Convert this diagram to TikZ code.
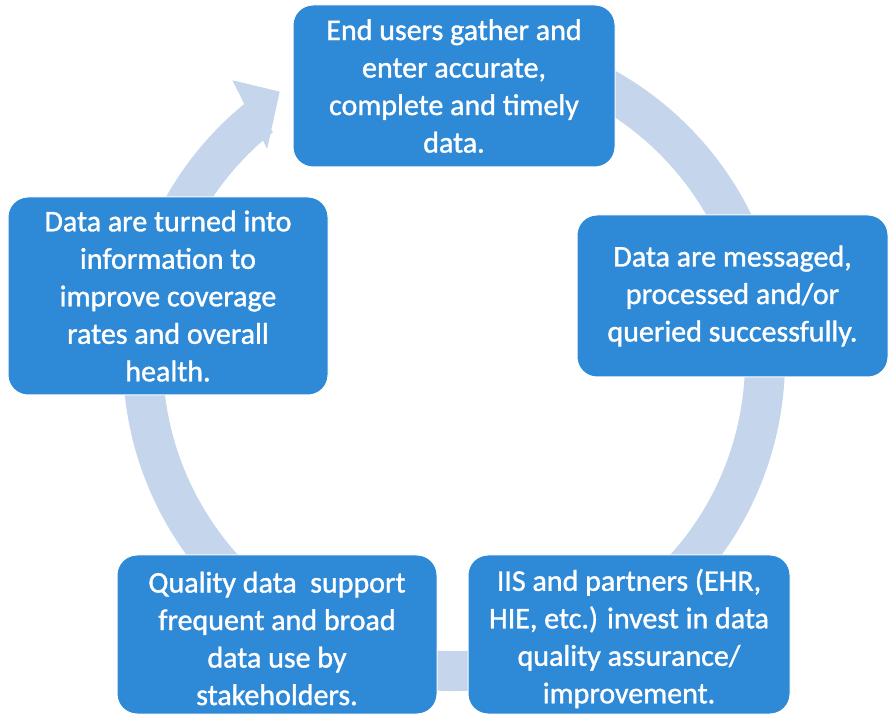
\documentclass[tikz,border=0pt]{standalone}
\usepackage{fontspec}
\setmainfont{Carlito}
\newfontfamily\stagefont[RawFeature={embolden=1.2}]{Carlito}
\definecolor{boxblue}{RGB}{46,137,214}
\definecolor{ringblue}{RGB}{197,214,236}
\begin{document}
\begin{tikzpicture}[x=1pt,y=1pt,
  stage/.style={draw=white, line width=1pt, fill=boxblue, rounded corners=20pt,
    text=white, align=center, font=\stagefont\fontsize{30}{37.5}\selectfont, inner sep=0pt},
  stagetext/.style={text=white, align=center, font=\stagefont\fontsize{30}{37.5}\selectfont, inner sep=0pt},
  ringband/.style={draw=ringblue, line width=40pt},
]
\useasboundingbox (0,0) rectangle (889,715);
\clip (0,0) rectangle (889,715);
\coordinate (c) at (454,355);
% circular arrow
\draw[ringband] ([shift={(80:311)}]c) arc[start angle=80, end angle=-231.5, radius=311];
\coordinate (hin) at ([shift={(131.5:282)}]c);
\coordinate (htip) at ([shift={(123.0:320)}]c);
\coordinate (hout) at ([shift={(128.4:357)}]c);
\fill[ringblue] (hin) -- (htip) -- (hout) -- cycle;
% stages
\node[stage, minimum width=322pt, minimum height=162pt] (n1) at (454,629)
  {End users gather and\\enter accurate,\\complete and timely\\data.};
\node[stage, minimum width=311pt, minimum height=162pt] (n2) at (732.5,419)
  {Data are messaged,\\processed and/or\\queried successfully.};
\node[stage, minimum width=322pt, minimum height=159pt] (n3) at (629,80.5) {};
\node[stagetext] (t3) at ([yshift=-4pt]n3.center)
  {IIS and partners (EHR,\\HIE, etc.) invest in data\\quality assurance/\\improvement.};
\node[stage, minimum width=320pt, minimum height=159pt] (n4) at (277,80.5) {};
\node[stagetext] (t4) at ([yshift=-4pt]n4.center)
  {Quality data\ \ support\\frequent and broad\\data use by\\stakeholders.};
\node[stage, minimum width=320pt, minimum height=198pt] (n5) at (168,419)
  {Data are turned into\\information to\\improve coverage\\rates and overall\\health.};
\end{tikzpicture}
\end{document}
